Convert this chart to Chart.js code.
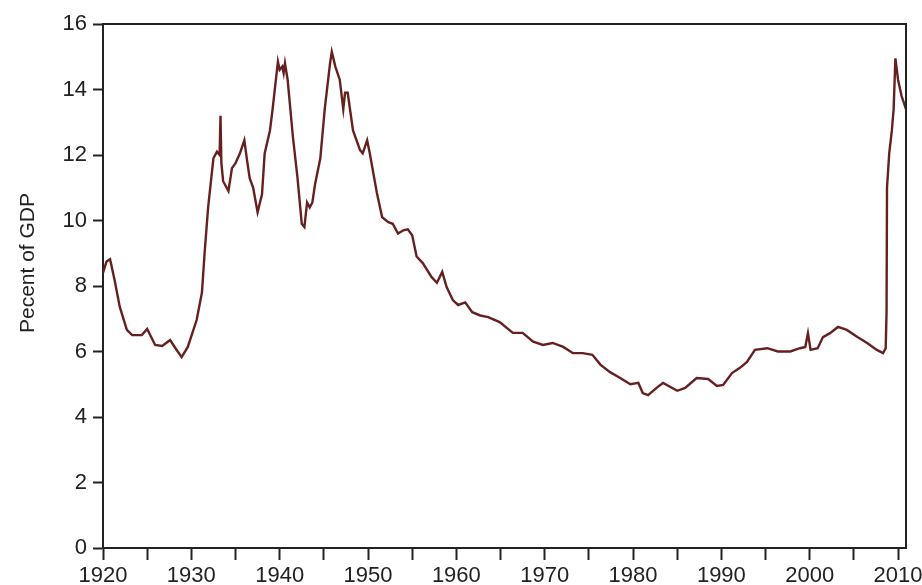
<!DOCTYPE html>
<html>
<head>
<meta charset="utf-8">
<script src="https://cdn.jsdelivr.net/npm/chart.js@4.4.1/dist/chart.umd.min.js"></script>
<style>
  html, body { margin: 0; padding: 0; background: #fff; }
  #grafico { display: block; }
</style>
</head>
<body>
<canvas id="grafico" width="922" height="585"></canvas>
<script>
// years (fractional) and percent of GDP
const anios = [
  1920.0, 1920.4, 1920.8, 1921.3, 1921.9, 1922.7, 1923.3, 1924.4, 1925.0, 1925.9,
  1926.7, 1927.6, 1928.2, 1928.9, 1929.6, 1930.6, 1931.2, 1931.5, 1931.9, 1932.5,
  1932.9, 1933.2, 1933.3, 1933.4, 1933.6, 1934.2, 1934.6, 1935.0, 1935.5, 1936.0,
  1936.3, 1936.6, 1937.0, 1937.5, 1938.0, 1938.3, 1938.9, 1939.2, 1939.8, 1940.0,
  1940.3, 1940.45, 1940.6, 1940.9, 1941.5, 1942.0, 1942.5, 1942.8, 1943.1, 1943.4,
  1943.7, 1944.0, 1944.6, 1945.1, 1945.7, 1945.9, 1946.3, 1946.8, 1947.2, 1947.4,
  1947.7, 1948.3, 1949.1, 1949.4, 1949.9, 1950.2, 1951.0, 1951.6, 1952.3, 1952.8,
  1953.4, 1954.0, 1954.5, 1955.0, 1955.5, 1956.2, 1957.2, 1957.8, 1958.4, 1958.9,
  1959.6, 1960.2, 1961.0, 1961.8, 1962.7, 1963.6, 1964.9, 1966.4, 1967.5, 1968.7,
  1969.8, 1970.9, 1972.1, 1973.2, 1974.3, 1975.4, 1976.3, 1977.4, 1978.5, 1979.7,
  1980.6, 1981.1, 1981.7, 1982.8, 1983.4, 1985.0, 1985.9, 1987.2, 1988.5, 1989.5,
  1990.2, 1991.2, 1992.1, 1992.9, 1993.8, 1995.2, 1996.4, 1997.8, 1998.9, 1999.5,
  1999.8, 2000.1, 2000.9, 2001.5, 2002.3, 2003.2, 2004.2, 2005.4, 2006.5, 2007.6,
  2008.3, 2008.6, 2008.7, 2008.75, 2009.0, 2009.3, 2009.5, 2009.7, 2010.0, 2010.4,
  2010.9
];
const porcentaje = [
  8.4, 8.75, 8.82, 8.2, 7.36, 6.66, 6.5, 6.5, 6.69, 6.2,
  6.17, 6.35, 6.1, 5.83, 6.14, 6.96, 7.8, 9.0, 10.4, 11.9,
  12.1, 12.0, 13.2, 11.75, 11.2, 10.9, 11.6, 11.75, 12.05, 12.45,
  11.85, 11.3, 11.0, 10.25, 10.8, 12.05, 12.75, 13.4, 14.85, 14.6,
  14.7, 14.5, 14.8, 14.3, 12.55, 11.35, 9.9, 9.8, 10.55, 10.4,
  10.55, 11.1, 11.9, 13.4, 14.8, 15.15, 14.7, 14.3, 13.4, 13.9,
  13.9, 12.75, 12.15, 12.05, 12.45, 12.05, 10.85, 10.1, 9.95, 9.9,
  9.6, 9.7, 9.73, 9.55, 8.9, 8.7, 8.27, 8.1, 8.43, 7.97,
  7.57, 7.42, 7.5, 7.2, 7.1, 7.05, 6.9, 6.57, 6.57, 6.3,
  6.2, 6.26, 6.14, 5.95, 5.95, 5.9, 5.6, 5.37, 5.2, 5.0,
  5.04, 4.73, 4.67, 4.92, 5.04, 4.8, 4.89, 5.19, 5.16, 4.95,
  4.98, 5.34, 5.5, 5.68, 6.05, 6.1, 6.0, 6.0, 6.1, 6.14,
  6.56, 6.05, 6.1, 6.44, 6.56, 6.75, 6.66, 6.44, 6.26, 6.05,
  5.95, 6.1, 7.2, 11.0, 12.05, 12.75, 13.4, 14.95, 14.3, 13.8,
  13.4
];
const ticks_x = [1920, 1925, 1930, 1935, 1940, 1945, 1950, 1955, 1960, 1965, 1970, 1975, 1980, 1985, 1990, 1995, 2000, 2005, 2010];
const ticks_y = [0, 2, 4, 6, 8, 10, 12, 14, 16];
const titulo_y = 'Pecent of GDP';

const puntos = anios.map((a, i) => ({ x: a, y: porcentaje[i] }));

// top/right side of the frame, and the y title (sits a bit above the middle)
const marco = {
  id: 'marco',
  afterDraw(chart) {
    const { ctx, chartArea: a } = chart;
    ctx.save();
    ctx.strokeStyle = '#222';
    ctx.lineWidth = 2;
    ctx.beginPath();
    ctx.moveTo(a.left, a.top);
    ctx.lineTo(a.right, a.top);
    ctx.lineTo(a.right, a.bottom);
    ctx.stroke();

    ctx.translate(28, 263);
    ctx.rotate(-Math.PI / 2);
    ctx.fillStyle = '#222';
    ctx.font = '21px "Liberation Sans"';
    ctx.textAlign = 'center';
    ctx.textBaseline = 'middle';
    ctx.fillText(titulo_y, 0, 0);
    ctx.restore();
  }
};

const ctx = document.getElementById('grafico').getContext('2d');
const grafico = new Chart(ctx, {
  type: 'line',
  data: {
    datasets: [{
      data: puntos,
      borderColor: '#66201f',
      borderWidth: 2.4,
      pointRadius: 0,
      tension: 0,
      fill: false
    }]
  },
  options: {
    responsive: false,
    animation: false,
    devicePixelRatio: 1,
    layout: { padding: { top: 24, right: 16, left: 0, bottom: 0 } },
    plugins: {
      legend: { display: false },
      tooltip: { enabled: false }
    },
    scales: {
      x: {
        type: 'linear',
        min: 1920,
        max: 2010.9,
        afterBuildTicks: (s) => { s.ticks = ticks_x.map(v => ({ value: v })); },
        afterFit: (s) => { s.height = 37; s.paddingLeft = 0; s.paddingRight = 0; },
        grid: { drawOnChartArea: false, drawTicks: true, tickLength: 12, tickColor: '#222', tickWidth: 2 },
        border: { display: true, color: '#222', width: 2 },
        ticks: {
          autoSkip: false,
          maxRotation: 0,
          padding: 3,
          color: '#222',
          font: { family: 'Liberation Sans', size: 22 },
          callback: (v) => (v % 10 === 0 ? String(v) : '')
        }
      },
      y: {
        min: 0,
        max: 16,
        afterBuildTicks: (s) => { s.ticks = ticks_y.map(v => ({ value: v })); },
        afterFit: (s) => { s.width = 103; s.paddingTop = 0; s.paddingBottom = 0; },
        grid: { drawOnChartArea: false, drawTicks: true, tickLength: 10, tickColor: '#222', tickWidth: 2 },
        border: { display: true, color: '#222', width: 2 },
        ticks: {
          padding: 6,
          color: '#222',
          font: { family: 'Liberation Sans', size: 22 }
        }
      }
    }
  },
  plugins: [marco]
});
</script>
</body>
</html>
